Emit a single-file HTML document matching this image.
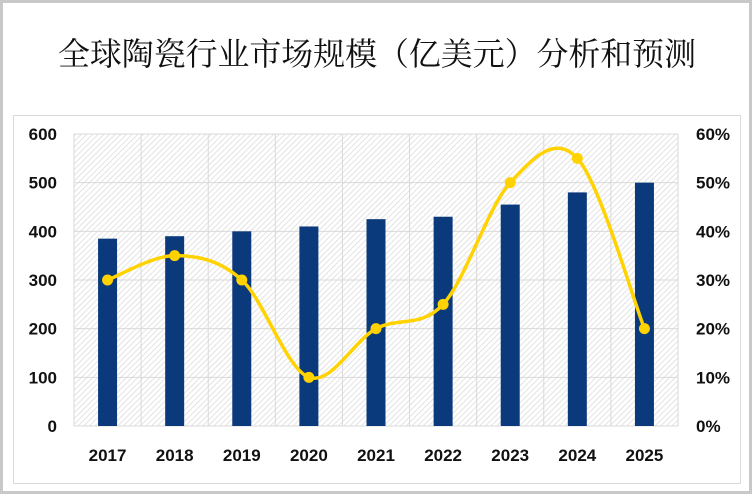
<!DOCTYPE html>
<html><head><meta charset="utf-8"><style>
body{margin:0;background:#fff;}
svg text{font-family:"Liberation Sans",Arial,sans-serif;font-weight:bold;fill:#111;}
</style></head><body>
<svg width="752" height="494" viewBox="0 0 752 494">
<defs>
<pattern id="hatch" width="4" height="4" patternUnits="userSpaceOnUse" patternTransform="rotate(45)">
<rect width="4" height="4" fill="#fff"/><line x1="0" y1="0" x2="0" y2="4" stroke="#dadada" stroke-width="1.5"/>
</pattern>
</defs>
<rect x="1.5" y="1.5" width="749" height="491" fill="#fff" stroke="#c8c8c8" stroke-width="3"/>
<text x="377" y="65" text-anchor="middle" font-size="32" textLength="638" lengthAdjust="spacingAndGlyphs" style="font-family:'Liberation Serif','Noto Serif CJK SC',serif;font-weight:normal">全球陶瓷行业市场规模（亿美元）分析和预测</text>
<rect x="13.5" y="115.5" width="727" height="368" fill="#fff" stroke="#d9d9d9"/>
<rect x="74" y="134" width="604" height="292" fill="url(#hatch)"/>
<g id="grid"></g>
<g id="bars"></g>
<g id="line"></g>
<g id="axes"></g>
</svg>
<script>
const categories=["2017","2018","2019","2020","2021","2022","2023","2024","2025"];
const marketSize=[385,390,400,410,425,430,455,480,500];
const growthRate=[30,35,30,10,20,25,50,55,20];
const leftTicks=[0,100,200,300,400,500,600];
const rightTicks=["0%","10%","20%","30%","40%","50%","60%"];
const NS="http://www.w3.org/2000/svg";
const X0=74,X1=678,Y0=426,Y1=134;
const band=(X1-X0)/categories.length;
const xc=i=>X0+band*(i+0.5);
const yL=v=>Y0-(v/600)*(Y0-Y1);
const yR=v=>Y0-(v/60)*(Y0-Y1);
function mk(tag,attrs,parent){const e=document.createElementNS(NS,tag);for(const k in attrs)e.setAttribute(k,attrs[k]);document.getElementById(parent).appendChild(e);return e;}
leftTicks.forEach((t,i)=>{
 const l=mk('line',{x1:X0,x2:X1,y1:yL(t),y2:yL(t),stroke:'#d9d9d9'},'grid');
 
 
 const a=mk('text',{x:57,y:yL(t)+6,'text-anchor':'end','font-size':17},'axes');a.textContent=t;
 
 
 const b=mk('text',{x:696,y:yL(t)+6,'text-anchor':'start','font-size':17},'axes');b.textContent=rightTicks[i];
 
 
});
for(let i=0;i<=categories.length;i++){
 const l=mk('line',{x1:X0+band*i,x2:X0+band*i,y1:Y1,y2:Y0,stroke:'#d9d9d9'},'grid');
 
 
}
categories.forEach((c,i)=>{
 const r=mk('rect',{x:xc(i)-9.5,y:yL(marketSize[i]),width:19,height:Y0-yL(marketSize[i]),fill:'#0b3a7c'},'bars');
 
 
 const t=mk('text',{x:xc(i),y:461,'text-anchor':'middle','font-size':17},'axes');t.textContent=c;
 
 
});
const pts=growthRate.map((v,i)=>[xc(i),yR(v)]);
let d='M'+pts[0][0]+','+pts[0][1];
const k=0.5/3*2;
for(let i=0;i<pts.length-1;i++){
 const p0=pts[i-1]||pts[i],p1=pts[i],p2=pts[i+1],p3=pts[i+2]||p2;
 const c1=[p1[0]+(p2[0]-p0[0])*k/2,p1[1]+(p2[1]-p0[1])*k/2];
 const c2=[p2[0]-(p3[0]-p1[0])*k/2,p2[1]-(p3[1]-p1[1])*k/2];
 d+=' C'+c1+' '+c2+' '+p2;
}
const path=mk('path',{d:d,fill:'none',stroke:'#ffd200','stroke-width':3.5},'line');


pts.forEach((p,i)=>{
 const c=mk('circle',{cx:p[0],cy:p[1],r:5.5,fill:'#ffd200'},'line');
 
 
});
</script>
</body></html>
